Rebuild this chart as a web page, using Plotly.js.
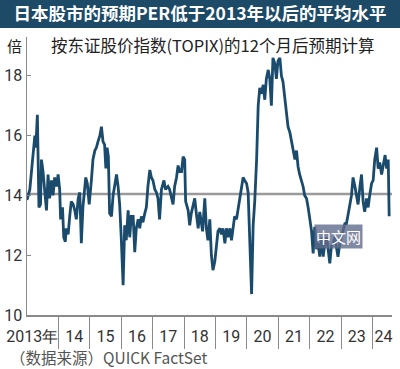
<!DOCTYPE html>
<html>
<head>
<meta charset="utf-8">
<script src="https://cdn.plot.ly/plotly-3.0.1.min.js"></script>
<style>
html,body{margin:0;padding:0;background:#fff;}
#chart{width:400px;height:369px;}
</style>
</head>
<body>
<div id="chart"></div>
<script>
// ---- data ----
const years = [
2013.00,2013.09,2013.16,2013.25,2013.28,2013.33,2013.38,2013.43,2013.46,2013.51,2013.56,2013.62,2013.67,2013.72,2013.78,2013.83,2013.88,2013.94,2013.99,
2014.04,2014.07,2014.13,2014.17,2014.22,2014.25,2014.31,2014.36,2014.41,2014.47,2014.52,2014.57,2014.63,2014.68,2014.73,2014.78,2014.84,2014.87,2014.92,2014.98,
2015.05,2015.10,2015.16,2015.21,2015.26,2015.32,2015.37,2015.42,2015.47,2015.51,2015.55,2015.59,2015.63,2015.69,2015.74,2015.79,2015.85,2015.90,2015.95,
2016.00,2016.06,2016.11,2016.16,2016.22,2016.27,2016.32,2016.38,2016.43,2016.48,2016.54,2016.59,2016.64,2016.69,2016.75,2016.80,2016.85,2016.91,2016.96,
2017.01,2017.07,2017.12,2017.17,2017.22,2017.28,2017.33,2017.36,2017.41,2017.49,2017.54,2017.60,2017.65,2017.70,2017.76,2017.81,2017.86,2017.92,2017.97,
2018.02,2018.05,2018.13,2018.18,2018.23,2018.29,2018.34,2018.39,2018.45,2018.50,2018.59,2018.66,2018.71,2018.76,2018.82,2018.87,2018.92,2018.98,
2019.03,2019.08,2019.14,2019.19,2019.24,2019.30,2019.35,2019.40,2019.46,2019.51,2019.56,2019.61,2019.67,2019.72,2019.77,2019.83,2019.88,2019.93,2019.99,
2020.04,2020.09,2020.15,2020.20,2020.25,2020.31,2020.36,2020.41,2020.46,2020.52,2020.57,2020.62,2020.68,2020.73,2020.78,2020.83,2020.89,2020.94,2020.99,
2021.05,2021.10,2021.15,2021.21,2021.26,2021.31,2021.37,2021.42,2021.47,2021.53,2021.58,2021.63,2021.68,2021.74,2021.79,2021.84,2021.90,2021.95,
2022.00,2022.06,2022.11,2022.16,2022.22,2022.27,2022.32,2022.38,2022.43,2022.48,2022.54,2022.59,2022.64,2022.69,2022.75,2022.80,2022.85,2022.90,2022.96,
2023.01,2023.06,2023.12,2023.17,2023.22,2023.28,2023.33,2023.38,2023.44,2023.49,2023.54,2023.60,2023.65,2023.70,2023.75,2023.81,2023.86,2023.91,2023.97,
2024.02,2024.07,2024.13,2024.18,2024.23,2024.29,2024.34,2024.40,2024.45,2024.50,2024.53
];
const per = [
13.85,14.2,15.0,16.0,15.6,16.7,13.6,13.7,15.2,14.8,14.2,13.5,14.7,13.9,14.5,14.0,14.6,14.3,14.7,
14.2,13.2,13.6,12.6,12.45,12.9,12.7,13.3,13.8,13.7,13.5,13.2,13.9,14.1,12.4,13.6,14.4,14.6,14.4,13.7,
14.5,15.2,15.5,15.6,15.8,16.0,16.3,15.8,15.7,14.9,15.6,15.3,13.4,13.3,14.0,14.4,14.7,14.3,13.7,
12.6,11.0,13.0,12.5,13.5,12.6,13.3,13.3,12.1,12.9,13.2,12.9,13.3,13.1,13.4,13.6,14.3,14.85,14.6,
14.5,14.2,14.1,13.9,13.2,14.2,14.4,14.5,14.2,14.3,14.2,13.9,13.7,14.3,14.6,15.0,14.8,14.8,15.3,
15.2,13.8,13.5,13.0,13.4,13.7,13.9,13.4,12.9,13.45,12.8,13.9,12.9,12.5,13.2,12.0,11.5,11.8,
12.4,12.8,12.9,12.7,12.9,12.4,12.9,12.6,12.9,12.5,12.9,13.3,13.2,13.5,13.9,14.2,14.6,14.5,14.4,
14.1,12.3,10.7,13.0,13.8,15.2,17.0,17.6,17.4,17.7,17.2,17.9,18.2,17.9,17.0,18.6,18.4,17.9,18.5,
18.6,18.0,17.8,17.2,16.6,16.3,16.1,15.85,15.6,15.2,15.5,14.96,14.7,14.5,14.3,14.0,13.9,13.6,
13.2,12.8,12.06,12.95,12.2,12.4,11.95,12.6,11.95,12.4,12.6,12.2,11.73,12.3,12.4,12.6,12.2,11.95,12.4,
12.6,12.8,13.06,13.06,13.3,13.7,14.0,14.6,14.3,14.0,13.7,14.3,14.7,13.8,13.45,13.9,13.6,14.0,14.4,
14.5,15.2,15.6,14.9,15.1,14.7,15.0,15.35,14.9,15.2,13.3
];
const averagePER = 14.05;
const yTicks = [10, 12, 14, 16, 18];
const separatorYears = [2014,2015,2016,2017,2018,2019,2020,2021,2022,2023,2024];
const xLabelPos = [2013.17,2014.5,2015.5,2016.5,2017.5,2018.5,2019.5,2020.5,2021.5,2022.5,2023.5,2024.35];
const xLabels = ["2013年","14","15","16","17","18","19","20","21","22","23","24"];
const titleText = "日本股市的预期PER低于2013年以后的平均水平";
const subtitleText = "按东证股价指数(TOPIX)的12个月后预期计算";
const unitText = "倍";
const sourceText = "（数据来源）QUICK FactSet";

// ---- layout geometry ----
const W = 400, H = 369;
const M = {l: 27, r: 8, t: 37, b: 54};
const pw = W - M.l - M.r, ph = H - M.t - M.b;
const px = x => (x - M.l) / pw;          // pixel -> paper x
const py = y => (H - M.b - y) / ph;      // pixel -> paper y

const tickFont = {family: "Liberation Sans Narrow, Roboto, sans-serif", size: 16, color: "#333"};
const cjk = "Noto Sans CJK SC, sans-serif";

const traces = [
  {
    x: [2013, 2024.62], y: [averagePER, averagePER],
    mode: "lines", line: {color: "#9a9a9a", width: 2.5},
    hoverinfo: "skip", showlegend: false
  },
  {
    x: years, y: per, mode: "lines",
    line: {color: "#1b4b6c", width: 2.8, shape: "linear"},
    showlegend: false
  }
];

const layout = {
  width: W, height: H,
  margin: M,
  paper_bgcolor: "#fff", plot_bgcolor: "#fff",
  showlegend: false,
  title: {
    text: "<b>" + titleText + "</b>",
    font: {family: cjk, size: 17.5, color: "#fff"},
    x: 0.5, xref: "container", xanchor: "center",
    y: 1 - 14 / H, yref: "container", yanchor: "middle"
  },
  xaxis: {
    range: [2013, 2024.62],
    showgrid: false, zeroline: false,
    showline: true, linecolor: "#8a8a8a", linewidth: 1.5,
    tickmode: "array", tickvals: xLabelPos, ticktext: xLabels,
    ticks: "", tickfont: tickFont, ticklabelstandoff: 6,
    minor: {tickmode: "array", tickvals: separatorYears, ticks: "outside",
            ticklen: 32, tickwidth: 1, tickcolor: "#8a8a8a", showgrid: false}
  },
  yaxis: {
    range: [10, 19.3],
    showgrid: false, zeroline: false,
    showline: true, linecolor: "#8a8a8a", linewidth: 1.5,
    tickmode: "array", tickvals: yTicks, ticktext: yTicks.map(String),
    ticks: "inside", ticklen: 4, tickwidth: 1, tickcolor: "#8a8a8a",
    tickfont: tickFont
  },
  shapes: [
    {type: "rect", xref: "paper", yref: "paper", layer: "below",
     x0: px(0), x1: px(W), y0: py(28), y1: py(0),
     fillcolor: "#1c4a67", line: {width: 0}}
  ],
  annotations: [
    {text: unitText, xref: "paper", yref: "paper", x: px(14.5), y: py(45),
     xanchor: "center", yanchor: "middle", showarrow: false,
     font: {family: cjk, size: 15, color: "#222"}},
    {text: subtitleText, xref: "paper", yref: "paper", x: px(212.5), y: py(45),
     xanchor: "center", yanchor: "middle", showarrow: false,
     font: {family: cjk, size: 16.5, color: "#222"}},
    {text: sourceText, xref: "paper", yref: "paper", x: px(8), y: py(357),
     xanchor: "left", yanchor: "middle", showarrow: false,
     font: {family: cjk, size: 15.5, color: "#555"}},
    {text: "中文网", xref: "paper", yref: "paper", x: px(338), y: py(236),
     xanchor: "center", yanchor: "middle", showarrow: false,
     bgcolor: "rgba(95,108,140,0.8)", borderpad: 1,
     font: {family: cjk, size: 15, color: "#fff"}}
  ]
};

Plotly.newPlot("chart", traces, layout, {displayModeBar: false, staticPlot: true});
</script>
</body>
</html>
